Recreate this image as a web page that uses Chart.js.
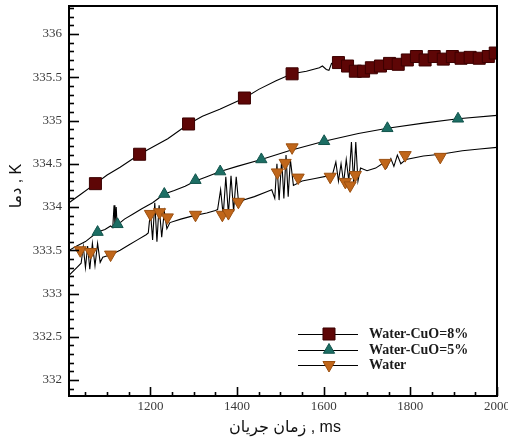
<!DOCTYPE html>
<html>
<head>
<meta charset="utf-8">
<script src="https://cdn.jsdelivr.net/npm/chart.js@4/dist/chart.umd.min.js"></script>
<style>
  html, body { margin: 0; padding: 0; background: #ffffff; }
  canvas { display: block; }
</style>
</head>
<body>
<canvas id="c" width="508" height="442"></canvas>
<script>
// ---------- axis ranges & tick labels ----------
const xMin = 1012, xMax = 2000;
const yMin = 331.815, yMax = 336.324;
const xTickValues = [1200, 1400, 1600, 1800, 2000];
const yTickValues = [332, 332.5, 333, 333.5, 334, 334.5, 335, 335.5, 336];

// ---------- series names ----------
const seriesNames = ["Water-CuO=8%", "Water-CuO=5%", "Water"];

// ---------- Water-CuO=8% ----------
const cuo8LineX = [1012, 1040, 1073, 1100, 1130, 1175, 1200, 1240, 1288, 1320, 1360, 1417, 1450, 1490, 1527, 1560, 1590, 1597, 1606, 1612, 1618, 1628, 1634, 1655, 1673, 1692, 1710, 1731, 1752, 1772, 1793, 1814, 1834, 1855, 1876, 1897, 1917, 1938, 1959, 1980, 2000];
const cuo8LineY = [334.05, 334.15, 334.27, 334.37, 334.46, 334.61, 334.68, 334.79, 334.96, 335.05, 335.13, 335.26, 335.36, 335.46, 335.54, 335.57, 335.61, 335.63, 335.59, 335.58, 335.66, 335.65, 335.67, 335.63, 335.57, 335.57, 335.61, 335.63, 335.66, 335.65, 335.70, 335.74, 335.70, 335.74, 335.71, 335.74, 335.72, 335.73, 335.72, 335.74, 335.79];
const cuo8MarkX = [1073, 1175, 1288, 1417, 1527, 1634, 1655, 1673, 1692, 1710, 1731, 1752, 1772, 1793, 1814, 1834, 1855, 1876, 1897, 1917, 1938, 1959, 1980, 1996];
const cuo8MarkY = [334.27, 334.61, 334.96, 335.26, 335.54, 335.67, 335.63, 335.57, 335.57, 335.61, 335.63, 335.66, 335.65, 335.70, 335.74, 335.70, 335.74, 335.71, 335.74, 335.72, 335.73, 335.72, 335.74, 335.78];

// ---------- Water-CuO=5% ----------
const cuo5LineX = [1012, 1030, 1050, 1078, 1095, 1108, 1113, 1116, 1118, 1121, 1123, 1140, 1160, 1180, 1205, 1232, 1255, 1280, 1304, 1330, 1361, 1400, 1456, 1520, 1601, 1680, 1747, 1830, 1910, 2000];
const cuo5LineY = [333.50, 333.55, 333.60, 333.71, 333.74, 333.78, 333.76, 334.02, 333.80, 334.00, 333.79, 333.86, 333.92, 333.98, 334.05, 334.15, 334.19, 334.24, 334.30, 334.35, 334.41, 334.47, 334.55, 334.65, 334.76, 334.85, 334.91, 334.97, 335.02, 335.06];
const cuo5MarkX = [1078, 1124, 1232, 1304, 1361, 1456, 1601, 1747, 1910];
const cuo5MarkY = [333.71, 333.80, 334.15, 334.31, 334.41, 334.55, 334.76, 334.91, 335.02];

// ---------- Water ----------
const waterLineX = [1012, 1030, 1040, 1045, 1050, 1055, 1060, 1066, 1072, 1078, 1084, 1090, 1110, 1130, 1150, 1170, 1190, 1195, 1200, 1205, 1210, 1215, 1220, 1226, 1232, 1238, 1245, 1270, 1300, 1330, 1350, 1355, 1362, 1368, 1374, 1380, 1386, 1392, 1398, 1404, 1415, 1440, 1470, 1480, 1487, 1492, 1497, 1503, 1508, 1513, 1518, 1523, 1530, 1550, 1580, 1610, 1620, 1628, 1634, 1640, 1646, 1652, 1658, 1664, 1669, 1674, 1679, 1685, 1700, 1720, 1735, 1745, 1755, 1762, 1770, 1778, 1790, 1830, 1870, 1920, 1960, 2000];
const waterLineY = [333.21, 333.30, 333.35, 333.54, 333.30, 333.55, 333.28, 333.58, 333.32, 333.58, 333.36, 333.42, 333.45, 333.50, 333.56, 333.62, 333.68, 333.70, 333.95, 333.62, 334.05, 333.60, 334.02, 333.65, 333.95, 333.75, 333.82, 333.86, 333.90, 333.93, 333.96, 333.97, 334.20, 333.90, 334.35, 333.92, 334.36, 333.95, 334.35, 334.02, 334.08, 334.12, 334.18, 334.20, 334.10, 334.50, 334.08, 334.55, 334.10, 334.60, 334.12, 334.55, 334.25, 334.30, 334.33, 334.36, 334.37, 334.52, 334.30, 334.50, 334.28, 334.55, 334.30, 334.75, 334.28, 334.75, 334.30, 334.45, 334.42, 334.45, 334.50, 334.45, 334.56, 334.47, 334.60, 334.50, 334.55, 334.59, 334.61, 334.65, 334.67, 334.69];
const waterMarkX = [1038, 1062, 1108, 1200, 1221, 1239, 1304, 1366, 1380, 1403, 1493, 1511, 1527, 1541, 1615, 1650, 1661, 1673, 1742, 1788, 1869];
const waterMarkY = [333.50, 333.48, 333.45, 333.92, 333.94, 333.88, 333.91, 333.91, 333.93, 334.06, 334.40, 334.51, 334.69, 334.34, 334.35, 334.29, 334.25, 334.37, 334.51, 334.60, 334.58];

// ---------- styles ----------
const col8 = '#5e0606', col8b = '#3c0000';
const col5 = '#1c6e64', col5b = '#13544c';
const colW = '#c0661a', colWb = '#9c5010';

const zip = (xs, ys) => xs.map((x, i) => ({ x: x, y: ys[i] }));

function lineSet(xs, ys) {
  return { type: 'line', data: zip(xs, ys), borderColor: '#000', borderWidth: 1.1, pointRadius: 0, tension: 0, fill: false, order: 2 };
}
function markSet(xs, ys, style, r, fillC, borderC, rot) {
  return { type: 'scatter', data: zip(xs, ys), showLine: false, pointStyle: style, pointRadius: r, pointRotation: rot || 0,
           backgroundColor: fillC, borderColor: borderC, borderWidth: 1, order: 1 };
}

const legendItems = [
  { label: seriesNames[0], style: 'rect', r: 8.5, fill: col8, border: col8b, rot: 0 },
  { label: seriesNames[1], style: 'triangle', r: 6.5, fill: col5, border: col5b, rot: 0 },
  { label: seriesNames[2], style: 'triangle', r: 7, fill: colW, border: colWb, rot: 180 }
];

const decor = {
  id: 'decor',
  afterDraw(chart) {
    const ctx = chart.ctx;
    const a = chart.chartArea;
    const xs = chart.scales.x, ys = chart.scales.y;
    ctx.save();
    // frame
    ctx.strokeStyle = '#000';
    ctx.lineWidth = 2;
    ctx.strokeRect(a.left, a.top, a.right - a.left, a.bottom - a.top);
    // y ticks (inward)
    ctx.lineWidth = 1.6;
    for (let k = Math.ceil(yMin * 10); k <= Math.floor(yMax * 10); k++) {
      const v = k / 10;
      const major = (k % 5 === 0);
      const p = Math.round(ys.getPixelForValue(v)) + 0.5;
      ctx.beginPath();
      ctx.moveTo(a.left, p);
      ctx.lineTo(a.left + (major ? 10 : 5), p);
      ctx.stroke();
    }
    // x ticks (inward)
    for (let v = Math.ceil(xMin / 50) * 50; v <= xMax; v += 50) {
      const major = (v % 200 === 0);
      const p = Math.round(xs.getPixelForValue(v)) + 0.5;
      ctx.beginPath();
      ctx.moveTo(p, a.bottom);
      ctx.lineTo(p, a.bottom - (major ? 9 : 4));
      ctx.stroke();
    }
    // legend
    const lx0 = 298, lx1 = 358, mx = 329, tx = 369;
    const rowsY = [334, 350, 365];
    legendItems.forEach((it, i) => {
      const y = rowsY[i];
      ctx.strokeStyle = '#000';
      ctx.lineWidth = 1;
      ctx.beginPath();
      ctx.moveTo(lx0, y + 0.5);
      ctx.lineTo(lx1, y + 0.5);
      ctx.stroke();
      ctx.fillStyle = it.fill;
      ctx.strokeStyle = it.border;
      ctx.lineWidth = 1;
      Chart.helpers.drawPoint(ctx, { pointStyle: it.style, radius: it.r, rotation: it.rot, borderWidth: 1 }, mx, y);
      ctx.fillStyle = '#1a1a1a';
      ctx.font = 'bold 14px "Liberation Serif", "Times New Roman", serif';
      ctx.textAlign = 'left';
      ctx.textBaseline = 'middle';
      ctx.fillText(it.label, tx, y);
    });
    // axis titles
    ctx.fillStyle = '#111';
    ctx.font = '16px "Liberation Sans", "DejaVu Sans", sans-serif';
    ctx.textAlign = 'center';
    ctx.textBaseline = 'middle';
    ctx.fillText('زمان جریان , ms', 285, 428);
    ctx.save();
    ctx.translate(17, 186);
    ctx.rotate(-Math.PI / 2);
    ctx.fillText('دما , K', 0, 0);
    ctx.restore();
    ctx.restore();
  }
};

const tickFont = { family: '"Liberation Serif", "Times New Roman", serif', size: 13 };
const zeroPad = s => { s.paddingTop = 0; s.paddingBottom = 0; s.paddingLeft = 0; s.paddingRight = 0; };

new Chart(document.getElementById('c'), {
  data: {
    datasets: [
      markSet(cuo8MarkX, cuo8MarkY, 'rect', 8.5, col8, col8b),
      markSet(cuo5MarkX, cuo5MarkY, 'triangle', 6.5, col5, col5b),
      markSet(waterMarkX, waterMarkY, 'triangle', 7, colW, colWb, 180),
      lineSet(cuo8LineX, cuo8LineY),
      lineSet(cuo5LineX, cuo5LineY),
      lineSet(waterLineX, waterLineY)
    ]
  },
  options: {
    responsive: false,
    animation: false,
    devicePixelRatio: 1,
    layout: { autoPadding: false, padding: { top: 6, right: 11, left: 0, bottom: 0 } },
    plugins: { legend: { display: false }, tooltip: { enabled: false } },
    scales: {
      x: {
        type: 'linear', min: xMin, max: xMax,
        grid: { display: false, drawTicks: false },
        border: { display: false },
        ticks: { font: tickFont, color: '#3a3a3a', padding: 3, maxRotation: 0, autoSkip: false, callback: v => String(v) },
        afterBuildTicks: s => { s.ticks = xTickValues.map(v => ({ value: v })); },
        afterFit: s => { s.height = 46; zeroPad(s); }
      },
      y: {
        type: 'linear', min: yMin, max: yMax,
        grid: { display: false, drawTicks: false },
        border: { display: false },
        ticks: { font: tickFont, color: '#3a3a3a', padding: 7, autoSkip: false, callback: v => String(v) },
        afterBuildTicks: s => { s.ticks = yTickValues.map(v => ({ value: v })); },
        afterFit: s => { s.width = 69; zeroPad(s); }
      }
    }
  },
  plugins: [decor]
});
</script>
</body>
</html>
